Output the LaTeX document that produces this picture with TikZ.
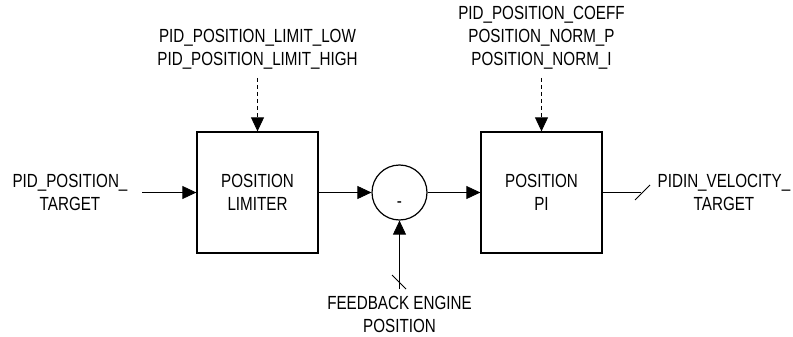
\documentclass[tikz,border=0pt]{standalone}
\usepackage{fontspec}
\setmainfont{Liberation Sans}[FakeStretch=0.8]
\usetikzlibrary{arrows.meta}
\begin{document}
\begin{tikzpicture}[x=1pt,y=-1pt,
  lbl/.style={font=\fontsize{19}{23}\selectfont, align=center, inner sep=0pt},
  blk/.style={draw, line width=1.3pt, minimum width=121pt, minimum height=121pt, inner sep=0pt, align=center, font=\fontsize{19}{23}\selectfont},
  sum/.style={draw, line width=1.2pt, circle, minimum size=55pt, inner sep=0pt},
  conn/.style={line width=0.8pt, -{Triangle[length=14pt,width=13pt]}},
  dconn/.style={conn, dash pattern=on 4pt off 3pt},
  wire/.style={line width=0.8pt}]
\useasboundingbox (0,0) rectangle (793,337);
\node[blk] (lim) at (257.5,192.5) {POSITION\\LIMITER};
\node[blk] (pi) at (541.5,192.5) {POSITION\\PI};
\node[sum] (s) at (399.5,192.5) {};
\node[lbl] (minus) at (399.5,205) {-};
\node[lbl] (in) at (70,192) {PID\_POSITION\_\\TARGET};
\node[lbl] (lims) at (257.5,49.5) {PID\_POSITION\_LIMIT\_LOW\\PID\_POSITION\_LIMIT\_HIGH};
\node[lbl] (coef) at (541.5,38) {PID\_POSITION\_COEFF\\POSITION\_NORM\_P\\POSITION\_NORM\_I};
\node[lbl] (out) at (724,192) {PIDIN\_VELOCITY\_\\TARGET};
\node[lbl] (fb) at (399.5,314) {FEEDBACK ENGINE\\POSITION};
\coordinate (inend) at (142,192.5);
\coordinate (limtop) at (257.5,78);
\coordinate (coeftop) at (541.5,78);
\coordinate (outend) at (641,192.5);
\coordinate (fbend) at (399.5,289);
\draw[conn] (inend) -- (lim.west);
\draw[conn] (lim.east) -- (s.west);
\draw[conn] (s.east) -- (pi.west);
\draw[dconn] (limtop) -- (lim.north);
\draw[dconn] (coeftop) -- (pi.north);
\draw[wire] (pi.east) -- (outend);
\draw[wire] (635,200) -- (650,185);
\draw[conn] (fbend) -- (s.south);
\draw[wire] (392,275) -- (406,289);
\end{tikzpicture}
\end{document}
